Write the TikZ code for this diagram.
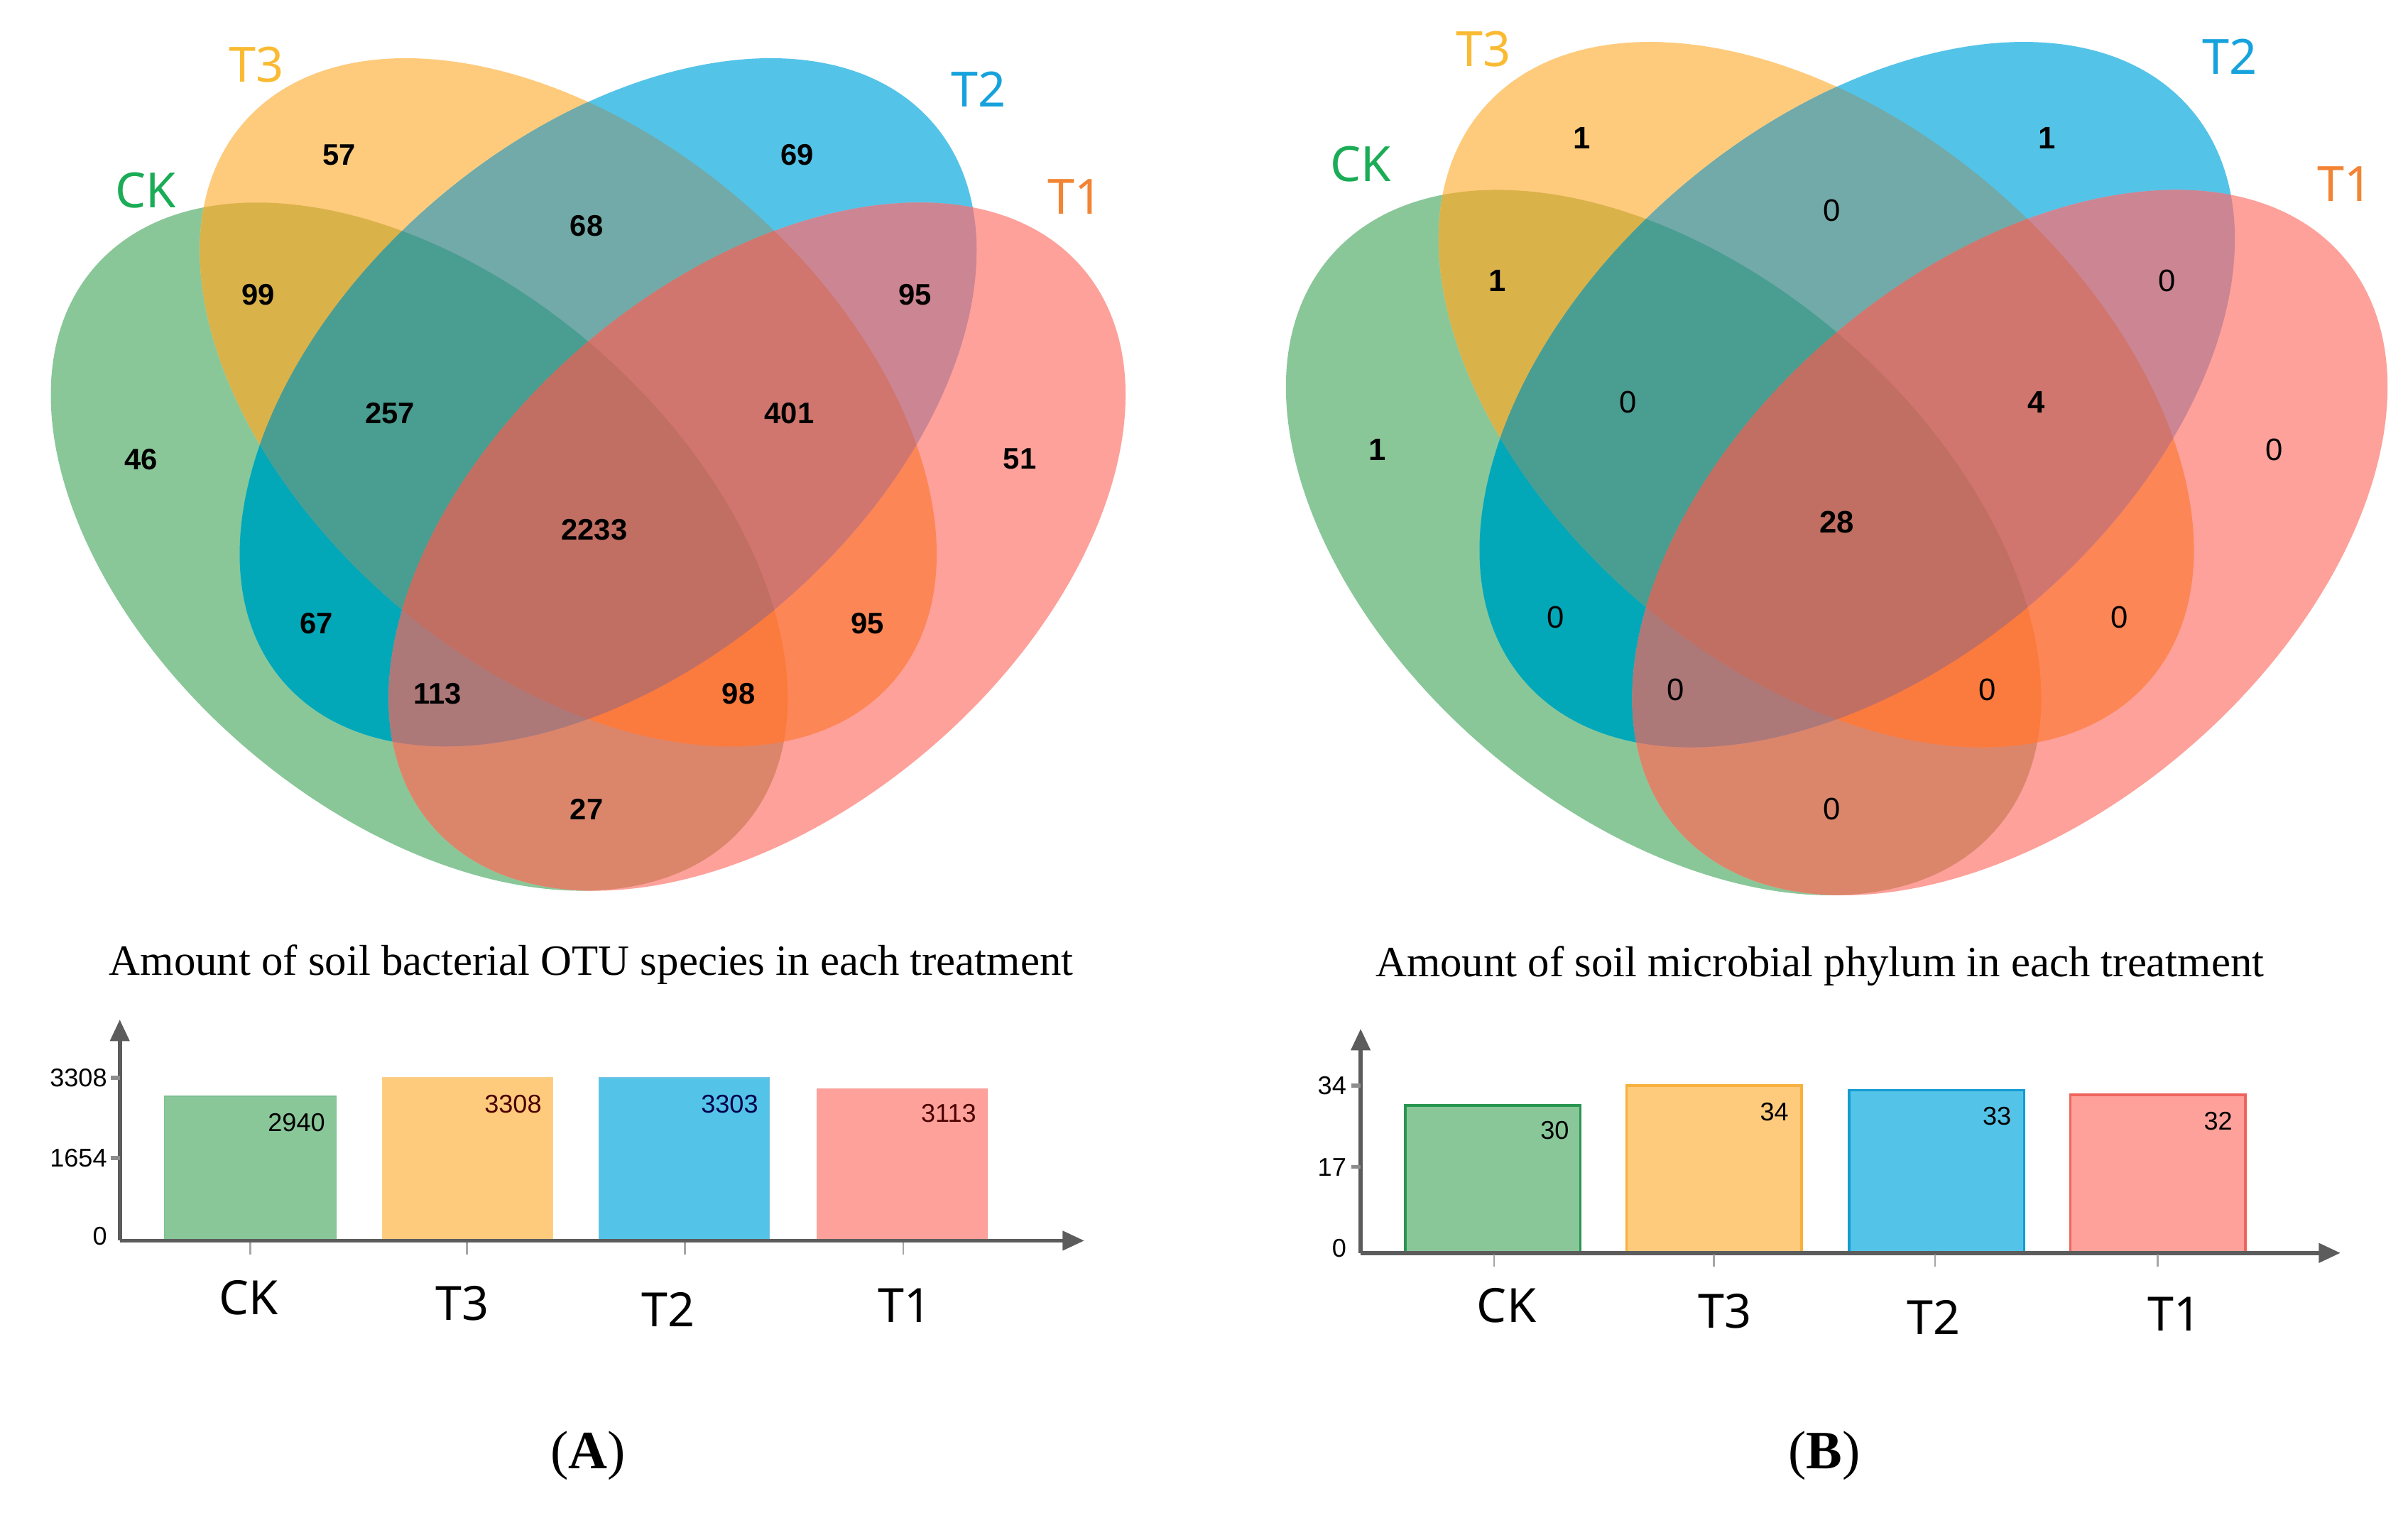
\documentclass[tikz,border=0pt]{standalone}
\usepackage{fontspec}
\setmainfont{Liberation Serif}
\newfontfamily\numfont{Liberation Sans}
\newfontfamily\catfont{Noto Sans}
\usetikzlibrary{arrows.meta}

\definecolor{cCK}{RGB}{137,199,153}
\definecolor{cT3}{RGB}{254,203,125}
\definecolor{cT2}{RGB}{84,195,232}
\definecolor{cT1}{RGB}{253,161,154}
\definecolor{cCKT3}{RGB}{218,178,74}
\definecolor{cCKT2}{RGB}{2,168,184}
\definecolor{cCKT1}{RGB}{219,134,107}
\definecolor{cT3T2}{RGB}{113,170,168}
\definecolor{cT3T1}{RGB}{253,134,86}
\definecolor{cT2T1}{RGB}{204,133,147}
\definecolor{cCKT3T2}{RGB}{74,157,145}
\definecolor{cCKT3T1}{RGB}{251,122,61}
\definecolor{cCKT2T1}{RGB}{173,120,120}
\definecolor{cT3T2T1}{RGB}{208,118,110}
\definecolor{cAll}{RGB}{193,111,98}
\definecolor{labCK}{RGB}{26,172,86}
\definecolor{labT3}{RGB}{250,186,50}
\definecolor{labT2}{RGB}{22,162,220}
\definecolor{labT1}{RGB}{242,132,52}
\definecolor{axisgrey}{RGB}{92,92,92}
\definecolor{edgeCK}{RGB}{40,150,80}
\definecolor{edgeT3}{RGB}{248,176,60}
\definecolor{edgeT2}{RGB}{20,155,210}
\definecolor{edgeT1}{RGB}{238,100,92}

\tikzset{
  eCK/.style={shift={(-110,94)},rotate=-40.6},
  eT3/.style={shift={(-13,0)},rotate=-40.6},
  eT2/.style={shift={(13,0)},rotate=40.6},
  eT1/.style={shift={(110,94)},rotate=40.6},
  vnA/.style={font=\numfont\bfseries\fontsize{11}{13}\selectfont, inner sep=0pt},
  vnB/.style={font=\numfont\bfseries\fontsize{11.5}{13}\selectfont, inner sep=0pt},
  vnBz/.style={font=\numfont\fontsize{11.5}{13}\selectfont, inner sep=0pt},
  setlab/.style={font=\catfont\fontsize{18}{20}\selectfont, inner sep=0pt},
  catlab/.style={font=\catfont\fontsize{17.5}{20}\selectfont, inner sep=0pt},
  ticklab/.style={font=\numfont\fontsize{9.5}{11}\selectfont, inner sep=0pt, anchor=east},
  vallab/.style={font=\numfont\fontsize{9.5}{11}\selectfont, inner sep=0pt, anchor=east},
  titlelab/.style={font=\fontsize{16}{19}\selectfont, inner sep=0pt},
  panellab/.style={font=\fontsize{20}{24}\selectfont, inner sep=0pt},
  axisline/.style={draw=axisgrey, line width=1.5pt, -{Triangle[length=8pt,width=7pt]}},
  ytick/.style={draw=axisgrey!70, line width=1.5pt},
  xtick/.style={draw=black!35, line width=0.6pt},
}

\newcommand\clipE[1]{\clip[#1] (0,0) ellipse [x radius=279, y radius=173];}
\newcommand\fillE[2]{\fill[#1,fill=#2] (0,0) ellipse [x radius=279, y radius=173];}
\newcommand\vennfill{%
  \fillE{eCK}{cCK}\fillE{eT3}{cT3}\fillE{eT2}{cT2}\fillE{eT1}{cT1}%
  \begin{scope}\clipE{eCK}\fillE{eT3}{cCKT3}\end{scope}%
  \begin{scope}\clipE{eCK}\fillE{eT2}{cCKT2}\end{scope}%
  \begin{scope}\clipE{eCK}\fillE{eT1}{cCKT1}\end{scope}%
  \begin{scope}\clipE{eT3}\fillE{eT2}{cT3T2}\end{scope}%
  \begin{scope}\clipE{eT3}\fillE{eT1}{cT3T1}\end{scope}%
  \begin{scope}\clipE{eT2}\fillE{eT1}{cT2T1}\end{scope}%
  \begin{scope}\clipE{eCK}\clipE{eT3}\fillE{eT2}{cCKT3T2}\end{scope}%
  \begin{scope}\clipE{eCK}\clipE{eT3}\fillE{eT1}{cCKT3T1}\end{scope}%
  \begin{scope}\clipE{eCK}\clipE{eT2}\fillE{eT1}{cCKT2T1}\end{scope}%
  \begin{scope}\clipE{eT3}\clipE{eT2}\fillE{eT1}{cT3T2T1}\end{scope}%
  \begin{scope}\clipE{eCK}\clipE{eT3}\clipE{eT2}\fillE{eT1}{cAll}\end{scope}%
}

\begin{document}
\begin{tikzpicture}[x=0.02cm,y=-0.02cm]
\useasboundingbox (0,0) rectangle (1568,985);
\fill[white] (0,0) rectangle (1568,985);

% ---------- Venn A ----------
\begin{scope}[shift={(383,262)}]
  \vennfill
\end{scope}
\node[setlab, text=labT3] (aT3) at (167,42) {T3};
\node[setlab, text=labCK] (aCK) at (95,124) {CK};
\node[setlab, text=labT2] (aT2) at (637,58) {T2};
\node[setlab, text=labT1] (aT1) at (700,128) {T1};

\node[vnA] (a57) at (221,101) {57};
\node[vnA] (a69) at (519,101) {69};
\node[vnA] (a68) at (382,147) {68};
\node[vnA] (a99) at (168,192) {99};
\node[vnA] (a95u) at (596,192) {95};
\node[vnA] (a257) at (254,269) {257};
\node[vnA] (a401) at (514,269) {401};
\node[vnA] (a46) at (92,299) {46};
\node[vnA] (a51) at (664,299) {51};
\node[vnA] (a2233) at (387,345) {2233};
\node[vnA] (a67) at (206,406) {67};
\node[vnA] (a95l) at (565,406) {95};
\node[vnA] (a113) at (285,452) {113};
\node[vnA] (a98) at (481,452) {98};
\node[vnA] (a27) at (382,527) {27};

% ---------- Venn B ----------
\begin{scope}[shift={(1196,257)}, scale=1.025]
  \vennfill
\end{scope}
\node[setlab, text=labT3] (bT3) at (966,32) {T3};
\node[setlab, text=labCK] (bCK) at (886,107) {CK};
\node[setlab, text=labT2] (bT2) at (1452,37) {T2};
\node[setlab, text=labT1] (bT1) at (1527,120) {T1};

\node[vnB] (b1a) at (1030,90) {1};
\node[vnB] (b1b) at (1333,90) {1};
\node[vnBz] (b0a) at (1193,137) {0};
\node[vnB] (b1c) at (975,183) {1};
\node[vnBz] (b0b) at (1411,183) {0};
\node[vnBz] (b0c) at (1060,262) {0};
\node[vnB] (b4) at (1326,262) {4};
\node[vnB] (b1d) at (897,293) {1};
\node[vnBz] (b0d) at (1481,293) {0};
\node[vnB] (b28) at (1196,340) {28};
\node[vnBz] (b0e) at (1013,402) {0};
\node[vnBz] (b0f) at (1380,402) {0};
\node[vnBz] (b0g) at (1091,449) {0};
\node[vnBz] (b0h) at (1294,449) {0};
\node[vnBz] (b0i) at (1193,527) {0};

% ---------- Titles ----------
\node[titlelab] (titA) at (385,628) {Amount of soil bacterial OTU species in each treatment};
\node[titlelab] (titB) at (1185,629) {Amount of soil microbial phylum in each treatment};

% ---------- Bar chart A ----------
\fill[cCK, draw=edgeCK!60] (107,808) rectangle (219,714);
\fill[cT3, draw=edgeT3!60] (249,808) rectangle (360,702);
\fill[cT2, draw=edgeT2!60] (390,808) rectangle (501,702);
\fill[cT1, draw=edgeT1!60] (532,808) rectangle (643,709);
\coordinate (aO) at (78,808);
\coordinate (aY) at (78,664);
\coordinate (aX) at (706,808);
\draw[axisline] (aO) -- (aY);
\draw[axisline] (aO) -- (aX);
\draw[ytick] (72,702) -- (78,702);
\draw[ytick] (72,754) -- (78,754);
\foreach \xx in {163,304,446,588} \draw[xtick] (\xx,809) -- (\xx,817);
\node[ticklab] (at1) at (70,702) {3308};
\node[ticklab] (at2) at (70,754) {1654};
\node[ticklab] (at3) at (70,805) {0};
\node[vallab] (av1) at (212,731) {2940};
\node[vallab, text=black!70!red] (av2) at (353,719) {3308};
\node[vallab, text=black!70!blue] (av3) at (494,719) {3303};
\node[vallab, text=black!70!red] (av4) at (636,725) {3113};
\node[catlab] (ac1) at (162,845) {CK};
\node[catlab] (ac2) at (301,849) {T3};
\node[catlab] (ac3) at (435,853) {T2};
\node[catlab] (ac4) at (589,850) {T1};

% ---------- Bar chart B ----------
\filldraw[fill=cCK, draw=edgeCK, line width=0.9pt] (915,816) rectangle (1029,720);
\filldraw[fill=cT3, draw=edgeT3, line width=0.9pt] (1059,816) rectangle (1173,707);
\filldraw[fill=cT2, draw=edgeT2, line width=0.9pt] (1204,816) rectangle (1318,710);
\filldraw[fill=cT1, draw=edgeT1, line width=0.9pt] (1348,816) rectangle (1462,713);
\coordinate (bO) at (886,816);
\coordinate (bY) at (886,670);
\coordinate (bX) at (1524,816);
\draw[axisline] (bO) -- (bY);
\draw[axisline] (bO) -- (bX);
\draw[ytick] (880,707) -- (886,707);
\draw[ytick] (880,760) -- (886,760);
\foreach \xx in {973,1116,1260,1405} \draw[xtick] (\xx,817) -- (\xx,825);
\node[ticklab] (bt1) at (877,707) {34};
\node[ticklab] (bt2) at (877,760) {17};
\node[ticklab] (bt3) at (877,813) {0};
\node[vallab] (bv1) at (1022,736) {30};
\node[vallab] (bv2) at (1165,724) {34};
\node[vallab] (bv3) at (1310,727) {33};
\node[vallab] (bv4) at (1454,730) {32};
\node[catlab] (bc1) at (981,850) {CK};
\node[catlab] (bc2) at (1123,854) {T3};
\node[catlab] (bc3) at (1259,858) {T2};
\node[catlab] (bc4) at (1416,856) {T1};

% ---------- Panel labels ----------
\node[panellab] (pA) at (383,948) {(\textbf{A})};
\node[panellab] (pB) at (1188,948) {(\textbf{B})};
\end{tikzpicture}
\end{document}
